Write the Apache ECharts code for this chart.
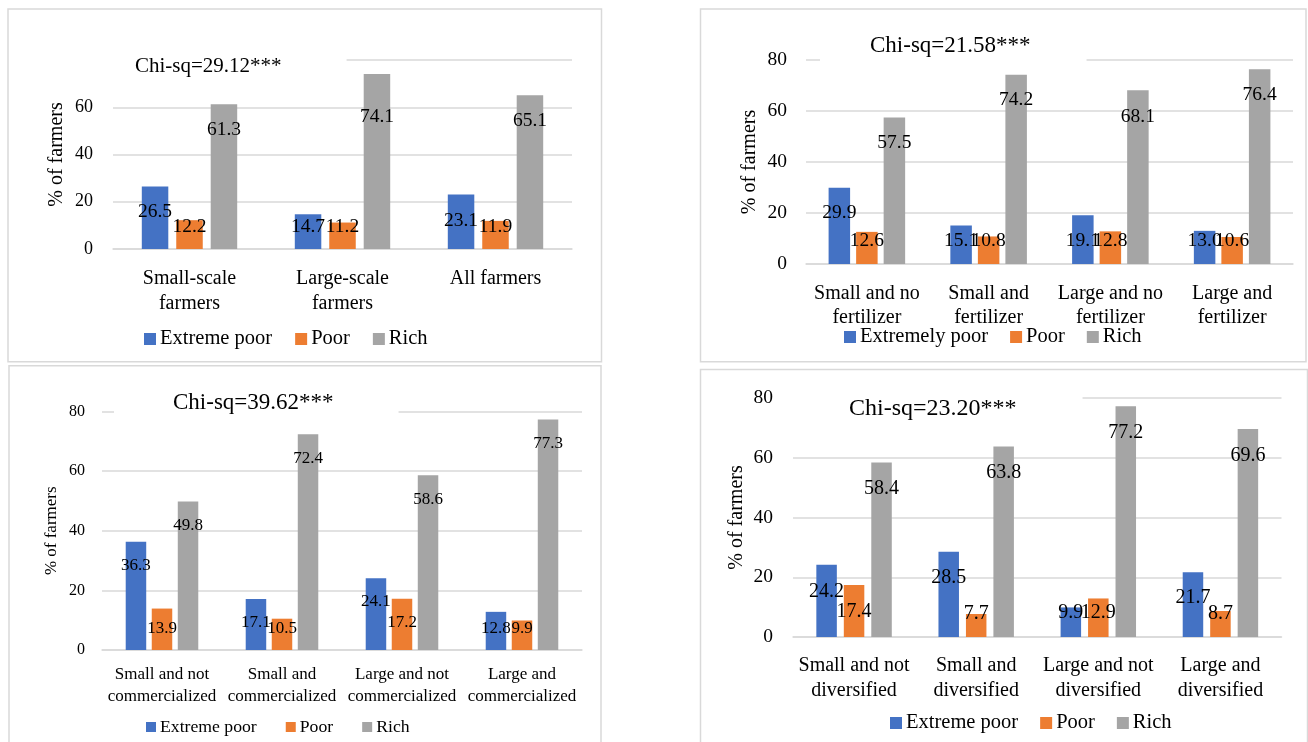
<!DOCTYPE html>
<html>
<head>
<meta charset="utf-8">
<script src="https://cdn.jsdelivr.net/npm/echarts@6/dist/echarts.min.js"></script>
<style>
  html, body { margin: 0; padding: 0; background: #ffffff; }
  #chart { width: 1308px; height: 742px; }
</style>
</head>
<body>
<div id="chart"></div>
<script>
// ---------- data ----------
const classNamesA = ['Extreme poor', 'Poor', 'Rich'];
const classNamesB = ['Extremely poor', 'Poor', 'Rich'];

// Farm scale
const scaleCategories = ['Small-scale\nfarmers', 'Large-scale\nfarmers', 'All farmers'];
const scaleExtremePoor = [26.5, 14.7, 23.1];
const scalePoor = [12.2, 11.2, 11.9];
const scaleRich = [61.3, 74.1, 65.1];
const scaleChiSq = 'Chi-sq=29.12***';

// Fertilizer use
const fertCategories = ['Small and no\nfertilizer', 'Small and\nfertilizer', 'Large and no\nfertilizer', 'Large and\nfertilizer'];
const fertExtremelyPoor = [29.9, 15.1, 19.1, 13.0];
const fertPoor = [12.6, 10.8, 12.8, 10.6];
const fertRich = [57.5, 74.2, 68.1, 76.4];
const fertChiSq = 'Chi-sq=21.58***';

// Commercialization
const commCategories = ['Small and not\ncommercialized', 'Small and\ncommercialized', 'Large and not\ncommercialized', 'Large and\ncommercialized'];
const commExtremePoor = [36.3, 17.1, 24.1, 12.8];
const commPoor = [13.9, 10.5, 17.2, 9.9];
const commRich = [49.8, 72.4, 58.6, 77.3];
const commChiSq = 'Chi-sq=39.62***';

// Diversification
const divCategories = ['Small and not\ndiversified', 'Small and\ndiversified', 'Large and not\ndiversified', 'Large and\ndiversified'];
const divExtremePoor = [24.2, 28.5, 9.9, 21.7];
const divPoor = [17.4, 7.7, 12.9, 8.7];
const divRich = [58.4, 63.8, 77.2, 69.6];
const divChiSq = 'Chi-sq=23.20***';

// value axis: 0..80 step 20
const yMin = 0, yMax = 80, yStep = 20;
const yAxisName = '% of farmers';

// ---------- styling / layout ----------
const FONT = '"Liberation Serif", "Times New Roman", serif';
const palette = ['#4472C4', '#ED7D31', '#A5A5A5'];
const gridColor = '#d9d9d9';

// distance (px) from each bar top down to the centre of its value label
const scaleLabelDrop = [[25.6, 12.7, 26.6], [6.8, 4.5, 6.1], [25.8, 43, 25.8]];
const fertLabelDrop = [[25.2, 15.5, 25.7, 10.2], [9.1, 4.5, 9.6, 4], [25.6, 25.2, 26.7, 25.8]];
const commLabelDrop = [[24, 24, 23.8, 17], [20.4, 10.3, 24.2, 8.5], [24.4, 24.7, 24.6, 24.3]];
const divLabelDrop = [[27.3, 26.1, 5.6, 25.8], [27, 0, 14.5, 3], [26.5, 26.6, 26.6, 26.9]];

const panels = [
  {
    categories: scaleCategories, names: classNamesA,
    values: [scaleExtremePoor, scalePoor, scaleRich], title: scaleChiSq, drops: scaleLabelDrop,
    frame: { x: 8, y: 9, w: 593.5, h: 352.7 },
    grid: { left: 113, top: 60, width: 459, height: 189 },
    barWidth: 26.5, barGap: '30%', valueFont: 19.5,
    yFont: 18, yMargin: 20, nameFont: 20, nameGap: 46,
    xFont: 20, xLine: 25, xMargin: 17,
    titleBox: { left: 72, top: 48, font: 21, lh: 24, pad: [6, 65, 6, 63] },
    legend: { left: 144, top: 327, font: 20.5, lh: 24, icon: 12, gap: 23 }
  },
  {
    categories: fertCategories, names: classNamesB,
    values: [fertExtremelyPoor, fertPoor, fertRich], title: fertChiSq, drops: fertLabelDrop,
    frame: { x: 700.5, y: 9, w: 605.5, h: 352.7 },
    grid: { left: 806, top: 60, width: 487, height: 204 },
    barWidth: 21.5, barGap: '28%', valueFont: 19.5,
    yFont: 19.5, yMargin: 19, nameFont: 20, nameGap: 46,
    xFont: 20, xLine: 24, xMargin: 18,
    titleBox: { left: 820, top: 29, font: 23, lh: 26, pad: [4, 56, 4, 50] },
    legend: { left: 844, top: 326, font: 20.5, lh: 22, icon: 12, gap: 22 }
  },
  {
    categories: commCategories, names: classNamesA,
    values: [commExtremePoor, commPoor, commRich], title: commChiSq, drops: commLabelDrop,
    frame: { x: 9, y: 365.7, w: 592, h: 400 },
    grid: { left: 102, top: 411.5, width: 480, height: 238.5 },
    barWidth: 20.5, barGap: '27%', valueFont: 17,
    yFont: 16, yMargin: 17, nameFont: 17, nameGap: 42,
    xFont: 17, xLine: 22, xMargin: 14,
    titleBox: { left: 114, top: 386, font: 23, lh: 26, pad: [4, 65, 2, 59] },
    legend: { left: 146, top: 717, font: 17.7, lh: 20, icon: 10, gap: 29 }
  },
  {
    categories: divCategories, names: classNamesA,
    values: [divExtremePoor, divPoor, divRich], title: divChiSq, drops: divLabelDrop,
    frame: { x: 700.5, y: 369.5, w: 607, h: 400 },
    grid: { left: 793, top: 398, width: 488.5, height: 239 },
    barWidth: 20.5, barGap: '34%', valueFont: 20,
    yFont: 19.5, yMargin: 20, nameFont: 20, nameGap: 46,
    xFont: 20, xLine: 25, xMargin: 16.5,
    titleBox: { left: 791, top: 392, font: 24, lh: 26, pad: [4, 66, 2, 58] },
    legend: { left: 890, top: 711, font: 20.5, lh: 24, icon: 12, gap: 22 }
  }
];

// ---------- option ----------
const grids = [], xAxes = [], yAxes = [], series = [], titles = [], legends = [], frames = [];

panels.forEach((p, i) => {
  grids.push(Object.assign({ containLabel: false }, p.grid));

  xAxes.push({
    type: 'category', gridIndex: i, data: p.categories,
    axisLine: { show: true, lineStyle: { color: gridColor, width: 1.5 } },
    axisTick: { show: false },
    axisLabel: {
      color: '#000', fontFamily: FONT, fontSize: p.xFont, lineHeight: p.xLine,
      margin: p.xMargin, interval: 0
    }
  });

  yAxes.push({
    type: 'value', gridIndex: i, min: yMin, max: yMax, interval: yStep,
    name: yAxisName, nameLocation: 'middle', nameGap: p.nameGap,
    nameTextStyle: { color: '#000', fontFamily: FONT, fontSize: p.nameFont },
    axisLine: { show: false }, axisTick: { show: false },
    axisLabel: { color: '#000', fontFamily: FONT, fontSize: p.yFont, margin: p.yMargin },
    splitLine: { show: true, lineStyle: { color: gridColor, width: 1.5 } }
  });

  p.values.forEach((vals, s) => {
    series.push({
      type: 'bar', name: p.names[s], xAxisIndex: i, yAxisIndex: i,
      barWidth: p.barWidth, barGap: p.barGap,
      itemStyle: { color: palette[s] },
      label: {
        show: true, color: '#000', fontFamily: FONT, fontSize: p.valueFont,
        align: 'center', verticalAlign: 'middle',
        formatter: d => Number(d.value).toFixed(1)
      },
      labelLayout: { hideOverlap: false },
      data: vals.map((v, k) => ({ value: v, label: { position: ['50%', p.drops[s][k]] } })),
      emphasis: { disabled: true },
      z: 2
    });
  });

  titles.push({
    text: p.title, left: p.titleBox.left, top: p.titleBox.top,
    padding: p.titleBox.pad, backgroundColor: '#ffffff',
    textStyle: {
      color: '#000', fontFamily: FONT, fontWeight: 'normal',
      fontSize: p.titleBox.font, lineHeight: p.titleBox.lh
    }
  });

  legends.push({
    data: p.names, left: p.legend.left, top: p.legend.top, padding: 0,
    orient: 'horizontal', selectedMode: false,
    icon: 'rect', itemWidth: p.legend.icon, itemHeight: p.legend.icon,
    itemGap: p.legend.gap,
    textStyle: { color: '#000', fontFamily: FONT, fontSize: p.legend.font, lineHeight: p.legend.lh, padding: [0, 0, 0, -1] }
  });

  frames.push({
    type: 'rect', silent: true, z: 0,
    shape: { x: p.frame.x, y: p.frame.y, width: p.frame.w, height: p.frame.h },
    style: { fill: 'none', stroke: gridColor, lineWidth: 1.5 }
  });
});

const chart = echarts.init(document.getElementById('chart'), null, { renderer: 'canvas' });
chart.setOption({
  animation: false,
  backgroundColor: '#ffffff',
  title: titles,
  legend: legends,
  grid: grids,
  xAxis: xAxes,
  yAxis: yAxes,
  series: series,
  graphic: frames
});
</script>
</body>
</html>
